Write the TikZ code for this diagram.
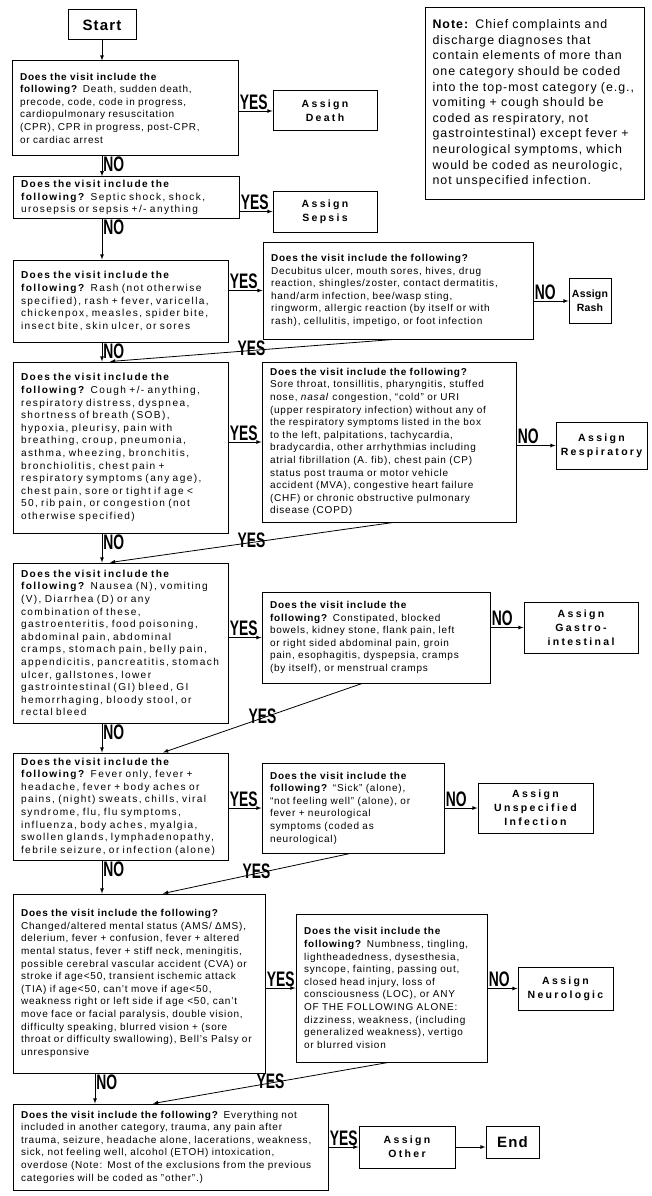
\documentclass[tikz,border=0pt]{standalone}
\usepackage{fontspec}
\setmainfont[LetterSpace=8]{Liberation Sans}
\newfontfamily\widefont[LetterSpace=14]{Liberation Sans}
\newfontfamily\assignfont[LetterSpace=22]{Liberation Sans}
\newfontfamily\assigntight[LetterSpace=2]{Liberation Sans}
\newfontfamily\answerfont[FakeStretch=0.66]{Liberation Sans}
\usepackage{tikz}

\begin{document}
\begin{tikzpicture}[x=1pt, y=1pt, >=latex,
QuestionPiece/.style={draw, line width=1pt, align=left, inner xsep=8pt, font=\fontsize{10}{12.6}\selectfont},
WideQuestionPiece/.style={QuestionPiece, font=\widefont\fontsize{10.1}{12.6}\selectfont},
AssignPiece/.style={draw, line width=1pt, align=center, font=\assignfont\fontsize{10.5}{14}\selectfont\bfseries},
TerminalPiece/.style={draw, line width=1pt, font=\fontsize{15}{18}\selectfont\bfseries},
AnswerLabel/.style={inner sep=1pt, font=\answerfont\fontsize{21}{22}\selectfont\bfseries},
FlowArrow/.style={->, line width=0.8pt}]

\useasboundingbox (0,0) rectangle (651,-1196);

\node[TerminalPiece, minimum width=68pt, minimum height=30pt] (start) at (102,-25) {Start};

\node[QuestionPiece, text width=205pt, minimum height=191pt, inner xsep=7pt, font=\fontsize{12.4}{15.6}\selectfont] (note) at (535,-103.5) {\textbf{Note:} Chief complaints and\\discharge diagnoses that\\contain elements of more than\\one category should be coded\\into the top-most category (e.g.,\\vomiting + cough should be\\coded as respiratory, not\\gastrointestinal) except fever +\\neurological symptoms, which\\would be coded as neurologic,\\not unspecified infection.};

% main column of questions
\node[QuestionPiece, text width=210pt, minimum height=94pt] (qdeath) at (125,-108) {\textbf{Does the visit include the}\\\textbf{following?} Death, sudden death,\\precode, code, code in progress,\\cardiopulmonary resuscitation\\(CPR), CPR in progress, post-CPR,\\or cardiac arrest};
\node[WideQuestionPiece, text width=210pt, minimum height=37pt] (qsepsis) at (126,-197.5) {\textbf{Does the visit include the}\\\textbf{following?} Septic shock, shock,\\urosepsis or sepsis +/- anything};
\node[WideQuestionPiece, text width=199pt, minimum height=82pt] (qrash) at (120.5,-301) {\textbf{Does the visit include the}\\\textbf{following?} Rash (not otherwise\\specified), rash + fever, varicella,\\chickenpox, measles, spider bite,\\insect bite, skin ulcer, or sores};
\node[WideQuestionPiece, text width=199pt, minimum height=171pt] (qresp) at (120.5,-447.5) {\textbf{Does the visit include the}\\\textbf{following?} Cough +/- anything,\\respiratory distress, dyspnea,\\shortness of breath (SOB),\\hypoxia, pleurisy, pain with\\breathing, croup, pneumonia,\\asthma, wheezing, bronchitis,\\bronchiolitis, chest pain +\\respiratory symptoms (any age),\\chest pain, sore or tight if age <\\50, rib pain, or congestion (not\\otherwise specified)};
\node[WideQuestionPiece, text width=199pt, minimum height=160pt] (qgi) at (120.5,-643) {\textbf{Does the visit include the}\\\textbf{following?} Nausea (N), vomiting\\(V), Diarrhea (D) or any\\combination of these,\\gastroenteritis, food poisoning,\\abdominal pain, abdominal\\cramps, stomach pain, belly pain,\\appendicitis, pancreatitis, stomach\\ulcer, gallstones, lower\\gastrointestinal (GI) bleed, GI\\hemorrhaging, bloody stool, or\\rectal bleed};
\node[WideQuestionPiece, text width=199pt, minimum height=107pt] (qinf) at (120.5,-806.5) {\textbf{Does the visit include the}\\\textbf{following?} Fever only, fever +\\headache, fever + body aches or\\pains, (night) sweats, chills, viral\\syndrome, flu, flu symptoms,\\influenza, body aches, myalgia,\\swollen glands, lymphadenopathy,\\febrile seizure, or infection (alone)};
\node[QuestionPiece, text width=236pt, minimum height=179pt] (qneuro) at (139,-983.5) {\textbf{Does the visit include the following?}\\Changed/altered mental status (AMS/ ΔMS),\\delerium, fever + confusion, fever + altered\\mental status, fever + stiff neck, meningitis,\\possible cerebral vascular accident (CVA) or\\stroke if age<50, transient ischemic attack\\(TIA) if age<50, can't move if age<50,\\weakness right or left side if age <50, can't\\move face or facial paralysis, double vision,\\difficulty speaking, blurred vision + (sore\\throat or difficulty swallowing), Bell's Palsy or\\unresponsive};
\node[QuestionPiece, text width=299pt, minimum height=86pt] (qother) at (170.5,-1147) {\textbf{Does the visit include the following?} Everything not\\included in another category, trauma, any pain after\\trauma, seizure, headache alone, lacerations, weakness,\\sick, not feeling well, alcohol (ETOH) intoxication,\\overdose (Note: Most of the exclusions from the previous\\categories will be coded as "other".)};

% exclusion questions
\node[QuestionPiece, text width=254pt, minimum height=97pt] (qrashx) at (398,-290.5) {\textbf{Does the visit include the following?}\\Decubitus ulcer, mouth sores, hives, drug\\reaction, shingles/zoster, contact dermatitis,\\hand/arm infection, bee/wasp sting,\\ringworm, allergic reaction (by itself or with\\rash), cellulitis, impetigo, or foot infection};
\node[QuestionPiece, text width=238pt, minimum height=160pt] (qrespx) at (389,-442) {\textbf{Does the visit include the following?}\\Sore throat, tonsillitis, pharyngitis, stuffed\\nose, \textit{nasal} congestion, “cold” or URI\\(upper respiratory infection) without any of\\the respiratory symptoms listed in the box\\to the left, palpitations, tachycardia,\\bradycardia, other arrhythmias including\\atrial fibrillation (A. fib), chest pain (CP)\\status post trauma or motor vehicle\\accident (MVA), congestive heart failure\\(CHF) or chronic obstructive pulmonary\\disease (COPD)};
\node[QuestionPiece, text width=212pt, minimum height=91pt] (qgix) at (376,-637.5) {\textbf{Does the visit include the}\\\textbf{following?} Constipated, blocked\\bowels, kidney stone, flank pain, left\\or right sided abdominal pain, groin\\pain, esophagitis, dyspepsia, cramps\\(by itself), or menstrual cramps};
\node[QuestionPiece, text width=166pt, minimum height=90pt] (qinfx) at (353,-808) {\textbf{Does the visit include the}\\\textbf{following?} “Sick” (alone),\\“not feeling well” (alone), or\\fever + neurological\\symptoms (coded as\\neurological)};
\node[QuestionPiece, text width=175pt, minimum height=148pt] (qneurox) at (391.5,-988) {\textbf{Does the visit include the}\\\textbf{following?} Numbness, tingling,\\lightheadedness, dysesthesia,\\syncope, fainting, passing out,\\closed head injury, loss of\\consciousness (LOC), or ANY\\OF THE FOLLOWING ALONE:\\dizziness, weakness, (including\\generalized weakness), vertigo\\or blurred vision};

% outcomes
\node[AssignPiece, minimum width=104pt, minimum height=40pt] (adeath) at (325,-111) {Assign\\Death};
\node[AssignPiece, minimum width=104pt, minimum height=41pt] (asepsis) at (325,-211.5) {Assign\\Sepsis};
\node[AssignPiece, minimum width=42pt, minimum height=45pt, inner xsep=2pt, font=\assigntight\fontsize{10.5}{14}\selectfont\bfseries] (arash) at (590,-301) {Assign\\Rash};
\node[AssignPiece, minimum width=91pt, minimum height=47pt] (aresp) at (601.5,-445.5) {Assign\\Respiratory};
\node[AssignPiece, minimum width=114pt, minimum height=51pt] (agi) at (581,-627.5) {Assign\\Gastro-\\intestinal};
\node[AssignPiece, minimum width=115pt, minimum height=50pt] (ainf) at (535.5,-808) {Assign\\Unspecified\\Infection};
\node[AssignPiece, minimum width=95pt, minimum height=43pt] (aneuro) at (565.5,-988.5) {Assign\\Neurologic};
\node[AssignPiece, minimum width=96pt, minimum height=42pt] (aother) at (407,-1147) {Assign\\Other};
\node[TerminalPiece, minimum width=53pt, minimum height=32pt] (finish) at (512.5,-1142) {End};

\coordinate (neurodrop) at (95,-1080);

% NO, down the main column
\draw[FlowArrow] (start.south) -- (start.south |- qdeath.north);
\draw[FlowArrow] (qdeath.south -| start) node[AnswerLabel, below right]{NO} -- (qsepsis.north -| start);
\draw[FlowArrow] (qsepsis.south -| start) node[AnswerLabel, below right]{NO} -- (qrash.north -| start);
\draw[FlowArrow] (qrash.south -| start) node[AnswerLabel, below right]{NO} -- (qresp.north -| start);
\draw[FlowArrow] (qresp.south -| start) node[AnswerLabel, below right]{NO} -- (qgi.north -| start);
\draw[FlowArrow] (qgi.south -| start) node[AnswerLabel, below right]{NO} -- (qinf.north -| start);
\draw[FlowArrow] (qinf.south -| start) node[AnswerLabel, below right]{NO} -- (qneuro.north -| start);
\draw[FlowArrow] (qneuro.south -| neurodrop) node[AnswerLabel, below right]{NO} -- (qother.north -| neurodrop);

% YES, to the right
\draw[FlowArrow] (qdeath.east |- adeath) node[AnswerLabel, above right]{YES} -- (adeath);
\draw[FlowArrow] (qsepsis.east |- asepsis) node[AnswerLabel, above right]{YES} -- (asepsis);
\draw[FlowArrow] (qrash.east |- qrashx) node[AnswerLabel, above right]{YES} -- (qrashx);
\draw[FlowArrow] (qresp.east |- qrespx) node[AnswerLabel, above right]{YES} -- (qrespx);
\draw[FlowArrow] (qgi.east |- qgix) node[AnswerLabel, above right]{YES} -- (qgix);
\draw[FlowArrow] (qinf.east |- qinfx) node[AnswerLabel, above right]{YES} -- (qinfx);
\draw[FlowArrow] (qneuro.east |- qneurox) node[AnswerLabel, above right]{YES} -- (qneurox);
\draw[FlowArrow] (qother.east |- aother) node[AnswerLabel, above right]{YES} -- (aother);
\draw[FlowArrow] (aother.east) -- (aother.east -| finish.west);

% NO from the exclusion boxes
\draw[FlowArrow] (qrashx.east |- arash) node[AnswerLabel, above right]{NO} -- (arash);
\draw[FlowArrow] (qrespx.east |- aresp) node[AnswerLabel, above right]{NO} -- (aresp);
\draw[FlowArrow] (qgix.east |- agi) node[AnswerLabel, above right]{NO} -- (agi);
\draw[FlowArrow] (qinfx.east |- ainf) node[AnswerLabel, above right]{NO} -- (ainf);
\draw[FlowArrow] (qneurox.east |- aneuro) node[AnswerLabel, above right]{NO} -- (aneuro);

% YES back to the next category
\draw[FlowArrow] ([xshift=-5pt]qrashx.south) -- node[AnswerLabel, yshift=2pt]{YES} ([xshift=-10.5pt]qresp.north);
\draw[FlowArrow] ([xshift=4pt]qrespx.south) -- node[AnswerLabel, yshift=2pt]{YES} ([xshift=-10.5pt]qgi.north);
\draw[FlowArrow] ([xshift=-14pt]qgix.south) -- node[AnswerLabel, yshift=2pt]{YES} ([xshift=42.5pt]qinf.north);
\draw[FlowArrow] ([xshift=-3pt]qinfx.south) -- node[AnswerLabel, yshift=2pt]{YES} ([xshift=24pt]qneuro.north);
\draw[FlowArrow] ([xshift=-3.5pt]qneurox.south) -- node[AnswerLabel, yshift=2pt]{YES} ([xshift=-17.5pt]qother.north);

\end{tikzpicture}
\end{document}
